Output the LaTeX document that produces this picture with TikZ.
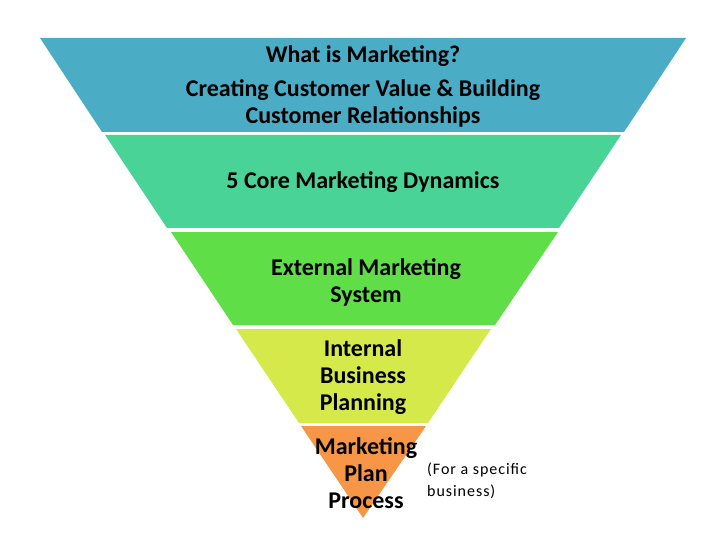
\documentclass[tikz,border=0pt]{standalone}
\usepackage{fontspec}
\setmainfont{Carlito}
\newfontfamily\spacedfont[LetterSpace=6]{Carlito}
\definecolor{layerA}{RGB}{75,172,198}
\definecolor{layerB}{RGB}{74,211,150}
\definecolor{layerC}{RGB}{95,222,72}
\definecolor{layerD}{RGB}{213,233,74}
\definecolor{layerE}{RGB}{247,150,70}
\tikzset{
  band/.style={fill=#1, draw=none},
  bigtext/.style={font=\fontsize{24}{27}\selectfont\bfseries, align=center, inner sep=0pt, text=black},
  smalltext/.style={font=\spacedfont\fontsize{16}{22}\selectfont, align=left, inner sep=0pt, text=black, anchor=west}
}
\begin{document}
\begin{tikzpicture}[x=1pt,y=-1pt]
\useasboundingbox (0,0) rectangle (720,540);
% bands
\path[band=layerA] (40,38) -- (686,38) -- (624,132) -- (102,132) -- cycle;
\path[band=layerB] (105,135) -- (621,135) -- (559,228) -- (167,228) -- cycle;
\path[band=layerC] (171,232) -- (558,232) -- (495,325) -- (233,325) -- cycle;
\path[band=layerD] (236,329) -- (491,329) -- (428,423) -- (299,423) -- cycle;
\path[band=layerE] (301,426) -- (426,426) -- (363,518) -- cycle;
% texts
\node[bigtext] (t1) at (363,56) {What is Marketing?};
\node[bigtext] (t2) at (363,103) {Creating Customer Value \& Building\\Customer Relationships};
\node[bigtext] (t3) at (363,182) {5 Core Marketing Dynamics};
\node[bigtext] (t4) at (366,282) {External Marketing\\System};
\node[bigtext] (t5) at (363,377) {Internal\\Business\\Planning};
\node[bigtext] (t6) at (366,473) {Marketing\\Plan\\Process};
\node[smalltext] (t7) at (427,481) {(For a specific\\business)};
\end{tikzpicture}
\end{document}
